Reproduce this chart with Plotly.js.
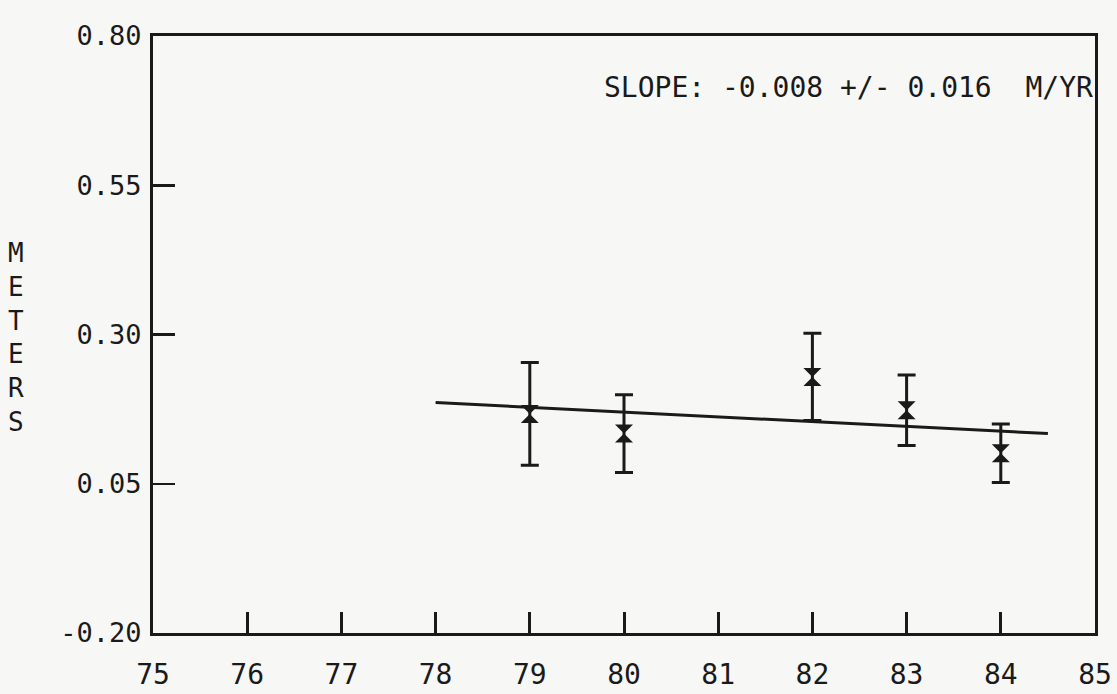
<!DOCTYPE html>
<html>
<head>
<meta charset="utf-8">
<script src="https://cdn.plot.ly/plotly-3.0.1.min.js"></script>
<style>
  html, body { margin: 0; padding: 0; background: #f7f7f5; }
  #chart { width: 1117px; height: 694px; }
</style>
</head>
<body>
<div id="chart"></div>
<script>
// Data
const years = [79, 80, 82, 83, 84];
const meters = [0.167, 0.134, 0.229, 0.173, 0.101];
const errors = [0.086, 0.065, 0.073, 0.059, 0.049];

const fitYears = [78, 84.5];
const fitMeters = [0.186, 0.134];

const xTicks = [75, 76, 77, 78, 79, 80, 81, 82, 83, 84, 85];
const xTickLabels = ["75", "76", "77", "78", "79", "80", "81", "82", "83", "84", "85"];
const yTicks = [-0.20, 0.05, 0.30, 0.55, 0.80];
const yTickLabels = ["-0.20", "0.05", "0.30", "0.55", "0.80"];

const slopeText = "SLOPE: -0.008 +/- 0.016  M/YR";
const yTitle = "METERS";

const ink = "#1a1a1a";
const fontFam = "DejaVu Sans Mono, monospace";

const traces = [
  {
    x: fitYears, y: fitMeters, type: "scatter", mode: "lines",
    line: { color: ink, width: 3 }, hoverinfo: "skip", showlegend: false
  },
  {
    x: years, y: meters, type: "scatter", mode: "markers",
    marker: { symbol: "hourglass", size: 18, color: ink, line: { width: 0 } },
    error_y: { type: "data", array: errors, visible: true, color: ink, thickness: 3, width: 9 },
    showlegend: false
  }
];

const layout = {
  width: 1117, height: 694,
  margin: { l: 153, r: 22, t: 36, b: 61 },
  paper_bgcolor: "#f7f7f5",
  plot_bgcolor: "#f7f7f5",
  font: { family: fontFam, size: 28, color: ink },
  showlegend: false,
  xaxis: {
    range: [75, 85], tickmode: "array", tickvals: xTicks, ticktext: xTickLabels,
    ticks: "inside", ticklen: 21, tickwidth: 3, tickcolor: ink,
    showline: true, linecolor: ink, linewidth: 3, mirror: true,
    showgrid: false, zeroline: false, ticklabelstandoff: 14,
    tickfont: { family: fontFam, size: 28, color: ink }
  },
  yaxis: {
    range: [-0.2, 0.8], tickmode: "array", tickvals: yTicks, ticktext: yTickLabels,
    ticks: "inside", ticklen: 22, tickwidth: 2.5, tickcolor: ink,
    showline: true, linecolor: ink, linewidth: 3, mirror: true,
    showgrid: false, zeroline: false, ticklabelstandoff: 3,
    tickfont: { family: fontFam, size: 27, color: ink }
  },
  annotations: [
    {
      xref: "paper", yref: "paper", x: 1, y: 0.913, xanchor: "right", yanchor: "middle",
      text: slopeText, showarrow: false,
      font: { family: fontFam, size: 28, color: ink }
    },
    {
      xref: "paper", yref: "paper", x: -0.145, y: 0.495, xanchor: "center", yanchor: "middle",
      text: yTitle.split("").join("<br>"), showarrow: false,
      font: { family: fontFam, size: 26, color: ink }
    }
  ]
};

Plotly.newPlot("chart", traces, layout, { displayModeBar: false, staticPlot: true });
</script>
</body>
</html>
